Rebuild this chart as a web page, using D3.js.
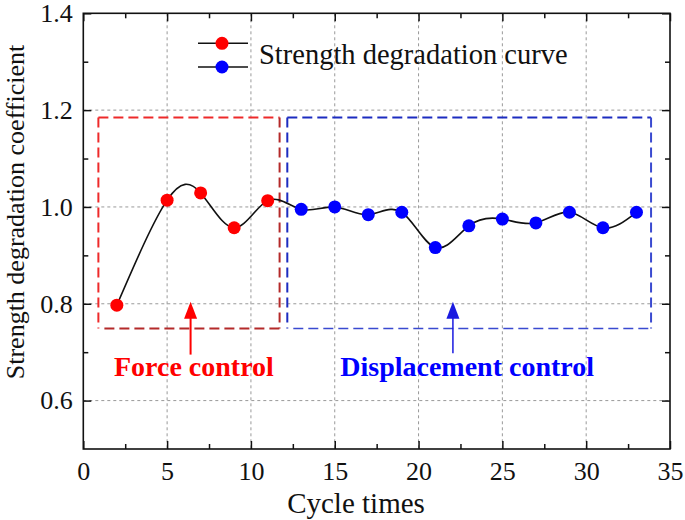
<!DOCTYPE html>
<html><head><meta charset="utf-8">
<script src="https://cdn.jsdelivr.net/npm/d3@7"></script>
<style>body{margin:0;background:#fff} svg{display:block}</style>
</head><body><svg id="c" width="685" height="520"></svg>
<script>
// ---- data ----
const cycles = [2, 5, 7, 9, 11, 13, 15, 17, 19, 21, 23, 25, 27, 29, 31, 33];
const coeffs = [0.797, 1.014, 1.029, 0.957, 1.013, 0.995, 1.000, 0.984, 0.989, 0.916, 0.961, 0.975, 0.967, 0.989, 0.957, 0.989];
const phases = ["force","force","force","force","force","disp","disp","disp","disp","disp","disp","disp","disp","disp","disp","disp"];
const xTickValues = [0, 5, 10, 15, 20, 25, 30, 35];
const xTickLabels = ["0", "5", "10", "15", "20", "25", "30", "35"];
const yTickValues = [0.6, 0.8, 1.0, 1.2, 1.4];
const yTickLabels = ["0.6", "0.8", "1.0", "1.2", "1.4"];
const xMinorTicks = [2.5, 7.5, 12.5, 17.5, 22.5, 27.5, 32.5];
const yMinorTicks = [0.7, 0.9, 1.1, 1.3];
const xGrid = [5, 10, 15, 20, 25, 30];
const yGrid = [0.6, 0.8, 1.0, 1.2];
const legendLabel = "Strength degradation curve";
const xTitle = "Cycle times";
const yTitle = "Strength degradation coefficient";
// annotation regions in data units: [x0, x1, y0, y1]
const forceBox = [0.9, 11.71, 0.749, 1.185];
const dispBox = [12.17, 33.87, 0.749, 1.185];
const annoLabels = ["Force control", "Displacement control"];
const annoX = [6.6, 22.9];
const annoY = [0.650, 0.650];
const arrowX = [6.4, 22.05];
const arrowTip = [0.804, 0.804];
const arrowTail = [0.695, 0.698];

// ---- setup ----
const W = 685, H = 520;
const L = 83.3, R = 670, T = 13.3, B = 449;
const svg = d3.select("#c");
const font = "'Liberation Serif','Times New Roman',serif";
const x = d3.scaleLinear().domain([0, 35]).range([L, R]);
const y = d3.scaleLinear().domain([0.5, 1.4]).range([B, T]);
const colors = {force: "#ff0000", disp: "#0000ff"};

// grid
const grid = svg.append("g").attr("stroke", "#999").attr("stroke-width", 1).attr("stroke-dasharray", "3,3");
grid.selectAll(".gx").data(xGrid).join("line")
  .attr("x1", d => x(d)).attr("x2", d => x(d)).attr("y1", T).attr("y2", B);
grid.selectAll(".gy").data(yGrid).join("line")
  .attr("y1", d => y(d)).attr("y2", d => y(d)).attr("x1", L).attr("x2", R);

// dashed boxes
function box(b, cTop, cBot, wTop, wBot) {
  const g = svg.append("g").attr("fill", "none").attr("stroke-dasharray", "10,5");
  const [x0, x1, y0, y1] = b;
  g.append("line").attr("x1", x(x0)).attr("x2", x(x1)).attr("y1", y(y1)).attr("y2", y(y1)).attr("stroke", cTop).attr("stroke-width", wTop);
  g.append("line").attr("x1", x(x0)).attr("x2", x(x0)).attr("y1", y(y1)).attr("y2", y(y0)).attr("stroke", cTop).attr("stroke-width", wTop);
  g.append("line").attr("x1", x(x1)).attr("x2", x(x1)).attr("y1", y(y1)).attr("y2", y(y0)).attr("stroke", cBot).attr("stroke-width", wTop);
  g.append("line").attr("x1", x(x0) + 6).attr("x2", x(x1)).attr("y1", y(y0)).attr("y2", y(y0)).attr("stroke", cBot).attr("stroke-width", wBot);
}
box(forceBox, "#ee2a2a", "#b42a2a", 2, 2);
box(dispBox, "#1c2cc0", "#3a4ad0", 2, 1.5);

// curve
const pts = cycles.map((c, i) => ({x: c, y: coeffs[i], p: phases[i]}));
svg.append("path").datum(pts)
  .attr("fill", "none").attr("stroke", "#111").attr("stroke-width", 1.6)
  .attr("d", d3.line().x(d => x(d.x)).y(d => y(d.y)).curve(d3.curveNatural));
svg.selectAll(".pt").data(pts).join("circle")
  .attr("cx", d => x(d.x)).attr("cy", d => y(d.y)).attr("r", 6.5)
  .attr("fill", d => colors[d.p]);

// arrows
const arrowColors = ["#ff0000", "#1a1ae0"];
const arrowW = [2, 1.5];
arrowX.forEach((ax, i) => {
  const px = x(ax), tip = y(arrowTip[i]), tail = y(arrowTail[i]);
  svg.append("line").attr("x1", px).attr("x2", px).attr("y1", tip + 10).attr("y2", tail)
    .attr("stroke", arrowColors[i]).attr("stroke-width", arrowW[i]);
  svg.append("path").attr("d", `M${px},${tip} L${px - 6.5},${tip + 17} L${px + 6.5},${tip + 17} Z`)
    .attr("fill", arrowColors[i]);
});

// annotation labels
const annoColors = ["#ff0000", "#0000ff"];
annoLabels.forEach((t, i) => {
  svg.append("text").attr("x", x(annoX[i])).attr("y", y(annoY[i]))
    .attr("text-anchor", "middle").attr("font-family", font).attr("font-weight", "bold")
    .attr("font-size", 28).attr("fill", annoColors[i]).text(t);
});

// axes (inward ticks)
function styleAxis(g) {
  g.select(".domain").remove();
  g.selectAll("line").attr("stroke", "#111").attr("stroke-width", 1.5);
  g.selectAll("text").attr("font-family", font).attr("font-size", 26).attr("fill", "#111");
}
svg.append("g").attr("transform", `translate(0,${B})`)
  .call(d3.axisBottom(x).tickValues(xTickValues).tickFormat((d, i) => xTickLabels[i]).tickSizeInner(-8).tickSizeOuter(0).tickPadding(12.5))
  .call(styleAxis);
svg.append("g").attr("transform", `translate(0,${B})`)
  .call(d3.axisBottom(x).tickValues(xMinorTicks).tickFormat("").tickSizeInner(-5).tickSizeOuter(0))
  .call(styleAxis);
svg.append("g").attr("transform", `translate(0,${T})`)
  .call(d3.axisTop(x).tickValues(xTickValues).tickFormat("").tickSizeInner(-8).tickSizeOuter(0))
  .call(styleAxis);
svg.append("g").attr("transform", `translate(0,${T})`)
  .call(d3.axisTop(x).tickValues(xMinorTicks).tickFormat("").tickSizeInner(-5).tickSizeOuter(0))
  .call(styleAxis);
svg.append("g").attr("transform", `translate(${L},0)`)
  .call(d3.axisLeft(y).tickValues(yTickValues).tickFormat((d, i) => yTickLabels[i]).tickSizeInner(-8).tickSizeOuter(0).tickPadding(10.5))
  .call(styleAxis);
svg.append("g").attr("transform", `translate(${L},0)`)
  .call(d3.axisLeft(y).tickValues(yMinorTicks).tickFormat("").tickSizeInner(-5).tickSizeOuter(0))
  .call(styleAxis);
svg.append("g").attr("transform", `translate(${R},0)`)
  .call(d3.axisRight(y).tickValues(yTickValues).tickFormat("").tickSizeInner(-8).tickSizeOuter(0))
  .call(styleAxis);
svg.append("g").attr("transform", `translate(${R},0)`)
  .call(d3.axisRight(y).tickValues(yMinorTicks).tickFormat("").tickSizeInner(-5).tickSizeOuter(0))
  .call(styleAxis);

// frame
svg.append("rect").attr("x", L).attr("y", T).attr("width", R - L).attr("height", B - T)
  .attr("fill", "none").attr("stroke", "#111").attr("stroke-width", 1.6);

// axis titles
svg.append("text").attr("x", 356).attr("y", 513)
  .attr("text-anchor", "middle").attr("font-family", font).attr("font-size", 29).attr("fill", "#111").text(xTitle);
svg.append("text").attr("transform", `translate(24,212) rotate(-90)`)
  .attr("text-anchor", "middle").attr("font-family", font).attr("font-size", 26).attr("fill", "#111").text(yTitle);

// legend
const legRows = [{c: colors.force, y: 43.3}, {c: colors.disp, y: 67}];
legRows.forEach(r => {
  svg.append("line").attr("x1", 198).attr("x2", 248).attr("y1", r.y).attr("y2", r.y)
    .attr("stroke", "#111").attr("stroke-width", 1.6);
  svg.append("circle").attr("cx", 222).attr("cy", r.y).attr("r", 6.5).attr("fill", r.c);
});
svg.append("text").attr("x", 259).attr("y", 64).attr("font-family", font).attr("font-size", 28.5)
  .attr("fill", "#111").text(legendLabel);
</script></body></html>
